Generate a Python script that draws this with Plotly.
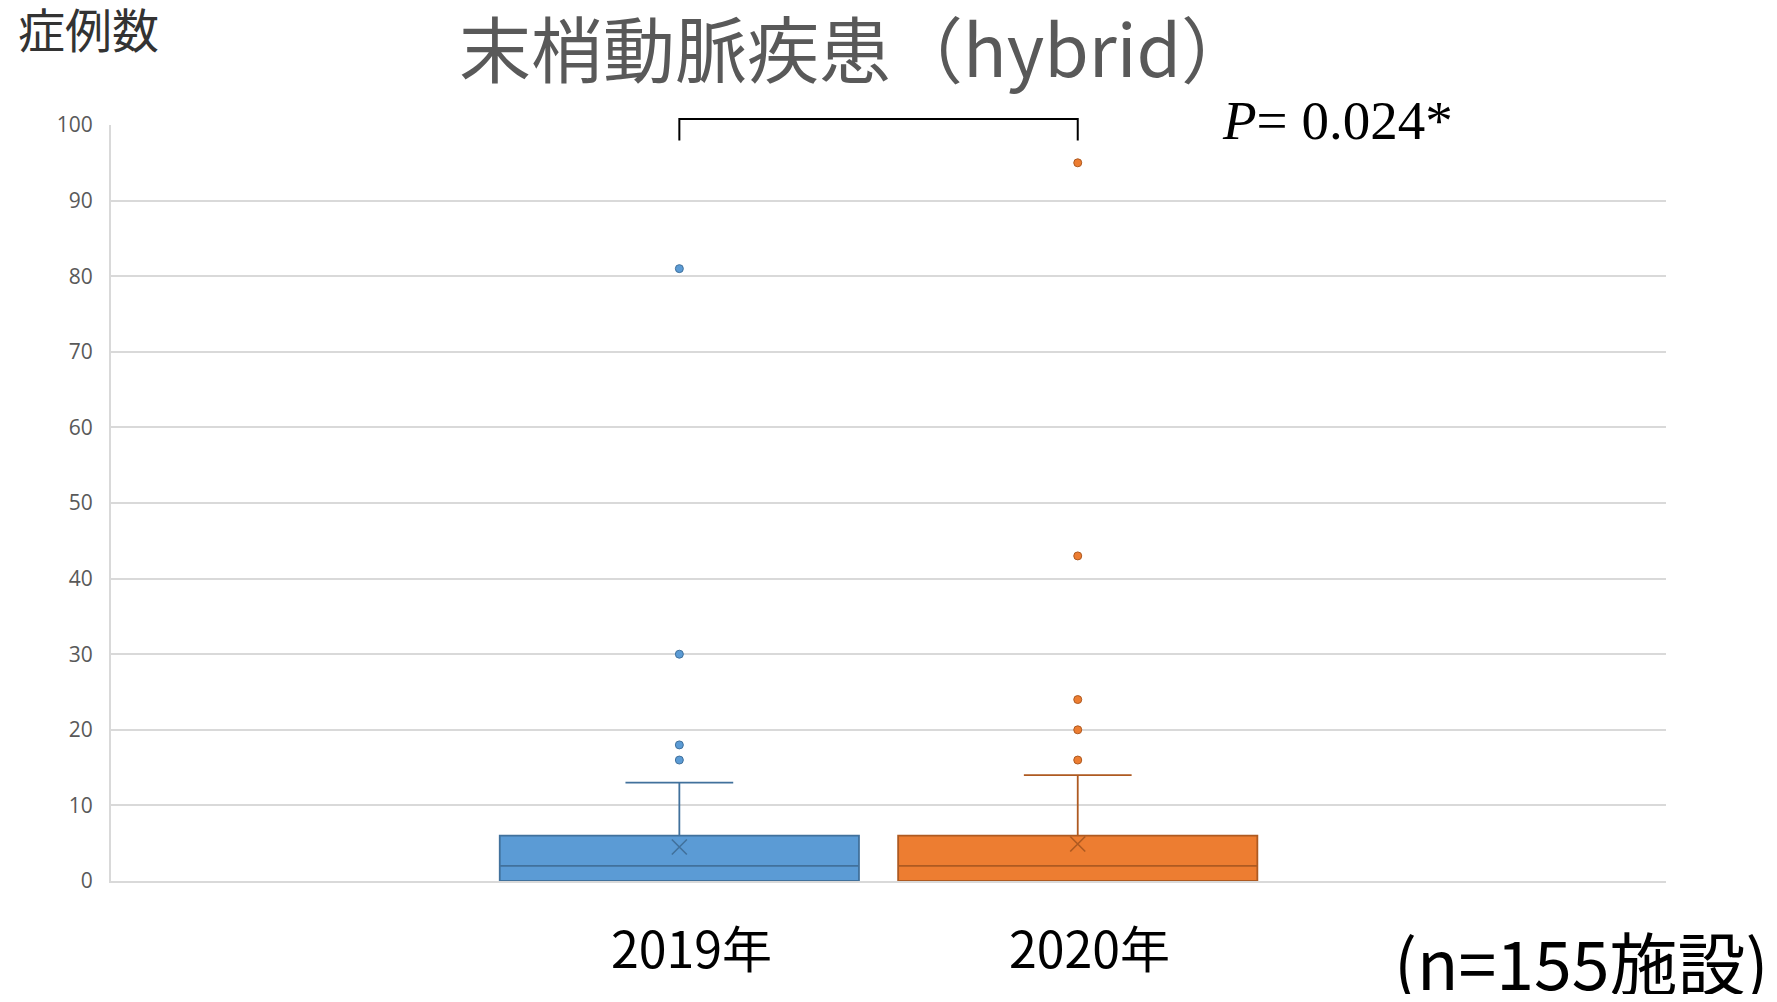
import plotly.graph_objects as go

# ---- data ----
categories = ["2019年", "2020年"]
q1 = [0, 0]
median = [2, 2]
q3 = [6, 6]
lower_fence = [0, 0]
upper_fence = [13, 14]
means = [4.5, 4.9]
outliers_2019 = [16, 18, 30, 81]
outliers_2020 = [16, 20, 24, 43, 95]
y_ticks = [0, 10, 20, 30, 40, 50, 60, 70, 80, 90, 100]
title_text = "末梢動脈疾患（hybrid）"
p_text = "<i>P</i>= 0.024*"
n_text = "(n=155施設)"
y_label = "症例数"

# ---- layout constants (page pixels; body has 8px margin) ----
O = 8
W, H = 1777 - 2 * O, 1002 - 2 * O
PL, PR, PT, PB = 111, 1666, 125, 880.6   # plot area in page pixels
ML, MR, MT, MB = PL - O, W - (PR - O), PT - O, H - (PB - O)
PW, PH = PR - PL, PB - PT


def px(xp):
    return (xp - PL) / PW


def py(yp):
    return (PB - yp) / PH


POS = [0.3655, 0.6217]
BOX_W = 0.231
fills = ["#5B9BD5", "#ED7D31"]
edges = ["#41719C", "#AE5A21"]
outliers = [outliers_2019, outliers_2020]
JP = "Noto Sans CJK JP"

fig = go.Figure()
for i in range(2):
    fig.add_trace(go.Box(
        x=[POS[i]], q1=[q1[i]], median=[median[i]], q3=[q3[i]],
        lowerfence=[lower_fence[i]], upperfence=[upper_fence[i]],
        width=BOX_W, whiskerwidth=0.3, boxpoints=False,
        fillcolor=fills[i], line=dict(color=edges[i], width=1.8),
        name=categories[i], showlegend=False,
    ))
    fig.add_trace(go.Scatter(
        x=[POS[i]] * len(outliers[i]), y=outliers[i], mode="markers",
        marker=dict(symbol="circle", size=8, color=fills[i],
                    line=dict(color=edges[i], width=1)),
        cliponaxis=False, showlegend=False,
    ))
    fig.add_trace(go.Scatter(
        x=[POS[i]], y=[means[i]], mode="markers",
        marker=dict(symbol="x-thin-open", size=15, color=edges[i],
                    line=dict(color=edges[i], width=1.6)),
        showlegend=False,
    ))
    fig.add_annotation(x=POS[i], y=py(946), xref="x", yref="paper",
                       text=categories[i], showarrow=False, xshift=12,
                       font=dict(family=JP, size=50, color="#000000"),
                       xanchor="center", yanchor="middle")

# significance bracket
yb, yt = py(140.5), py(119)
fig.add_shape(type="path", xref="x", yref="paper",
              path=f"M {POS[0]},{yb} L {POS[0]},{yt} L {POS[1]},{yt} L {POS[1]},{yb}",
              line=dict(color="#000000", width=2))

fig.add_annotation(x=px(1220), y=py(121), xref="paper", yref="paper", text=p_text,
                   showarrow=False, xanchor="left", yanchor="middle",
                   font=dict(family="Liberation Serif", size=55, color="#000000"))

fig.add_annotation(x=px(856), y=py(46), xref="paper", yref="paper",
                   text=title_text, showarrow=False, xanchor="center", yanchor="middle",
                   font=dict(family=JP, size=72, color="#595959"))

fig.add_annotation(x=px(16), y=py(28), xref="paper", yref="paper", text=y_label,
                   showarrow=False, xanchor="left", yanchor="middle",
                   font=dict(family=JP, size=47, color="#333333"))

fig.add_annotation(x=px(1770), y=py(960), xref="paper", yref="paper", text=n_text,
                   showarrow=False, xanchor="right", yanchor="middle",
                   font=dict(family=JP, size=68, color="#000000"))

fig.update_layout(
    width=W, height=H,
    margin=dict(l=ML, r=MR, t=MT, b=MB, autoexpand=False),
    paper_bgcolor="white", plot_bgcolor="white",
    xaxis=dict(range=[0, 1], showticklabels=False, showgrid=False, zeroline=False,
               showline=True, linecolor="#D9D9D9", linewidth=2, ticks=""),
    yaxis=dict(range=[0, 100], tickvals=y_ticks, showgrid=True, gridcolor="#D9D9D9",
               gridwidth=1.5, zeroline=False, showline=True, linecolor="#D9D9D9",
               linewidth=2, ticks="", ticklabelstandoff=12,
               tickfont=dict(family="Open Sans", size=21, color="#595959")),
)

fig.write_html("out.html")
